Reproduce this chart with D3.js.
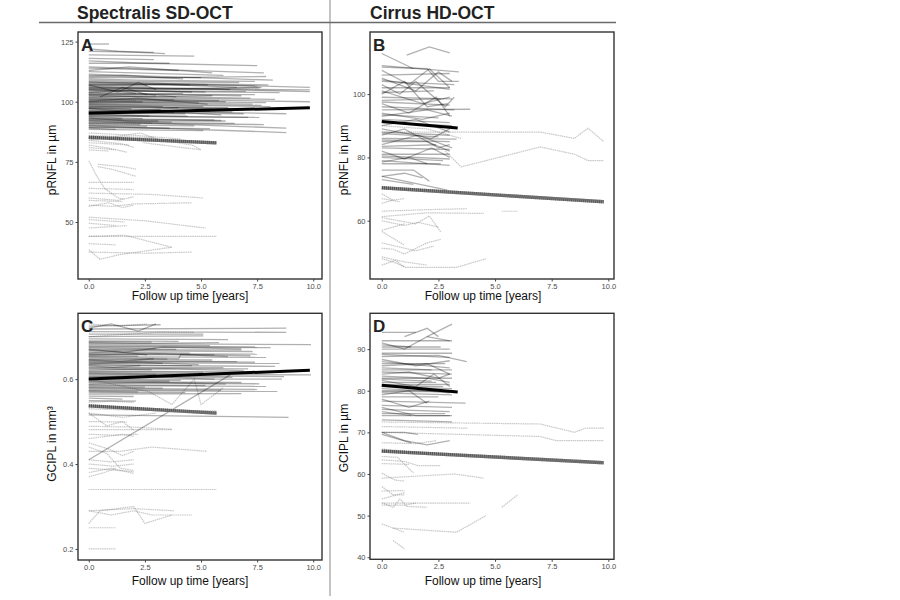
<!DOCTYPE html>
<html>
<head>
<meta charset="utf-8">
<script src="https://cdn.jsdelivr.net/npm/d3@7"></script>
<style>
body { margin: 0; background: #fff; }
svg { font-family: "Liberation Sans", Arial, sans-serif; }
</style>
</head>
<body>
<div id="chart"></div>
<script>
var xTicks = [0, 2.5, 5, 7.5, 10]
var aTicks = [50, 75, 100, 125]
var bTicks = [60, 80, 100]
var cTicks = [0.2, 0.4, 0.6]
var dTicks = [40, 50, 60, 70, 80, 90]

// Spectralis pRNFL (A)
var aSolid = [
	[[0,124],[0.9,124]], [[0,122],[1.3,121],[3.4,120]], [[0,121],[2.9,120.5]], [[0,119.5],[4.7,119]],
	[[0,118],[2.9,117.5]], [[0,117],[2.5,116],[7.5,115]], [[0,116],[3.6,116]], [[0,114.5],[3,113.5],[7.8,112]],
	[[0,114],[4,113]], [[0,113],[1.8,114.5],[5.5,112]], [[0,112.5],[6,111]], [[0,111.5],[8.2,109]],
	[[0,111],[3.2,110],[7.9,110.5]], [[0,110],[5,110]], [[0,109.5],[2.2,109],[7.4,108.5]], [[0,108.5],[9.85,106]],
	[[0,108],[4.5,107]], [[0,107.5],[7.5,106.5]], [[0,107],[2.6,106.5]], [[0,106.5],[9.85,104.2]],
	[[0,106],[6.3,105]], [[0,105.5],[3.5,105],[7.7,106]], [[0,105],[5.2,104]], [[0,104.5],[8.5,103.8]],
	[[0,104],[2.1,103.5]], [[0,103.5],[6.8,102.5]], [[0,103],[4.2,103.5]], [[0,102.5],[7.2,101.5]],
	[[0,102],[3,102.5]], [[0,101.5],[9.85,100]], [[0,101],[5.8,100.5]], [[0,100.5],[2.4,100]],
	[[0,100],[7.3,99]], [[0,99.5],[4.9,99.5]], [[0,99],[8.1,98]], [[0,98.5],[3.3,98]],
	[[0,98],[6.2,97.5]], [[0,97.5],[1.9,97]], [[0,97],[5.4,96]], [[0,96.5],[8.8,95]],
	[[0,96],[3.8,95.5]], [[0,95.5],[6.9,95]], [[0,95],[2.7,94]], [[0,94.5],[4.4,94]],
	[[0,94],[7.6,93.5]], [[0,93.5],[1.5,93]], [[0,93],[5.6,92.5]], [[0,92.5],[3.1,92]],
	[[0,92],[8.8,89]], [[0,91.5],[6.5,91]], [[0,91],[2.3,90.5]], [[0,90.5],[4.7,90]],
	[[0,90],[8.8,87.2]], [[0,89.5],[3.6,89]], [[0,89],[1.2,88.5]], [[0,88.5],[5.1,88]],
	[[0,107],[1.3,104],[2.2,108],[3,105]], [[0.5,102],[1.5,106],[2.6,103]], [[0,110.5],[1.6,111],[4.2,109.5]],
	[[0,103.8],[1.1,104.5],[3.9,102]], [[0,100.2],[2.2,101.5],[5.3,99]], [[0,97.2],[1.7,96],[4,97.5]],
	[[0,95.8],[2.5,96.5],[5.9,94.5]], [[0,93.2],[1.8,92],[6.1,92]], [[0,106.8],[3.3,107.2],[6.6,106]],
	[[0,105.2],[2.9,104.5],[7,104.3]], [[0,99.8],[3.7,100.2],[7.9,99.6]], [[0,98.2],[2.8,97.8],[6.6,96.8]],
	[[0,109],[2,108.5],[6.7,108]], [[0,108.2],[3.4,107.5],[8,107]], [[0,107.2],[5.3,107]],
	[[0,106.2],[2.9,105.5],[7.6,105.8]], [[0,105.7],[9.85,104.9]], [[0,104.8],[4.6,104]], [[0,103.2],[7.4,103]],
	[[0,102.8],[2.6,102],[5.5,102.5]], [[0,101.8],[8.3,101]], [[0,101.2],[3.8,100.8]], [[0,100.8],[6.1,100]],
	[[0,99.2],[2.9,99],[7.7,98.5]], [[0,98.8],[5.1,98]], [[0,97.8],[8.4,97]], [[0,97.3],[3.2,96.8]],
	[[0,96.2],[6.4,95.8]], [[0,95.2],[4.3,95]], [[0,94.2],[7.1,93.5]], [[0,93.8],[2.4,93]],
	[[0,92.8],[5.9,92.2]], [[0,92.2],[3.7,91.5]], [[0,91.2],[7.8,90.5]], [[0,90.2],[2.6,89.8]], [[0,89.2],[5.4,88.8]]
]
var aDotted = [
	[[0,104],[2,104.5]], [[0,100],[2.1,100.5]], [[0,96],[1.7,95.5]], [[0,91],[2.8,91]],
	[[0,87],[2.1,86],[4.1,84.5]], [[0,86],[2.9,85]], [[0,84],[2.3,87],[3.2,84],[4.6,82],[5,80],[2.4,83]],
	[[0,84],[1.5,82.5],[2,81]], [[0,83],[1.8,82]], [[0,82],[1,80.5],[1.7,79]], [[0,81],[1.2,80]],
	[[0,80],[0.9,79.5]], [[0,75.5],[0.3,70],[0.7,64],[1.3,60],[1.6,59.5]], [[0.4,74],[1.5,73],[2.1,72]],
	[[0.4,73],[1,72],[2.1,69]], [[0,66.5],[2,66.5]], [[0,64],[2,63.5]], [[0,62],[2.7,61.5],[5.1,60]],
	[[0,60],[1.3,59],[2,60.5]], [[0,59],[1.5,58.5]], [[0,57],[1.1,56.5],[2,57.5],[4.6,58]],
	[[0,56.5],[0.9,58],[1.5,56],[2,57]], [[0,52],[2.5,50.5],[5.2,47.5]], [[0,51],[1.6,50]],
	[[0,49.5],[1.2,48.5]], [[0,47.5],[1.7,48.5]], [[0,44],[2,44],[5.7,44]],
	[[0,44],[1.6,44.5],[3.7,39.5]], [[0,38.5],[0.5,34.5],[1.4,36.5],[3.7,39.5]], [[0,41],[1.2,40.5]],
	[[0,37.5],[2.5,37],[4.6,37.5]]
]
var aMeanSolid = [[0,95.2],[9.85,97.5]]
var aMeanDashed = [[0,85.2],[5.7,82.9]]

// Cirrus pRNFL (B)
var bSolid = [
	[[1.1,112.3],[2.1,114.9],[3,113]], [[0,112.8],[1.4,108]], [[0,109],[3.4,107]],
	[[0,108.5],[2,108],[2.5,104],[3.4,104]], [[0,107.5],[1.2,103],[2.1,108],[3,102]], [[0,106],[3,106.5]],
	[[0,105],[1.5,101],[2.5,107],[3.1,104]], [[0,104.5],[3,101.5]], [[0,103],[0.8,100],[1.5,104],[2.8,96],[3.2,99]],
	[[0,102],[3,102]], [[0,101],[1.8,97],[3,99]], [[0,100],[1,104],[2,96],[2.9,97]], [[0,99],[3.1,98.5]],
	[[0,98],[2.6,98.5]], [[0,97],[1.2,94],[2.4,99],[3,93]], [[0,96],[3.2,95]], [[0,95],[3.9,95.2]],
	[[0,94],[1.8,92],[3,94]], [[0,93],[2,95],[3.1,93]], [[0,92],[3,91]], [[0,90],[1.5,92],[3,88]],
	[[0,89],[2.2,86],[3,89]], [[0,88],[3,87]], [[0,87],[1,89],[2.5,83],[3,84]], [[0,86],[3.3,85.8]],
	[[0,85],[2,85],[3,82]], [[0,84],[1.6,87],[3.1,83]], [[0,83],[3,82.5]], [[0,82],[1,79.5],[2.2,83],[3,80]],
	[[0,81],[3,81]], [[0,80],[2.7,79]], [[0,79],[3,77.5]], [[0,78.5],[1.2,80],[2,78]],
	[[0,76],[1.4,76],[2.1,72.5]], [[0,74],[1,75],[1.8,73.5]], [[0,74],[2.9,69.7]], [[0,73],[1.4,71.5]],
	[[0,104],[3.2,103]], [[0,100.5],[2.3,101]], [[0,97.5],[3,96.5]], [[0,93.5],[2.5,92.5]], [[0,91],[3.1,90]],
	[[0,87.5],[2.5,86.5]], [[0,85.5],[3,85]], [[0,83.5],[2.4,84]], [[0,80.5],[3,79.5]], [[0,78],[2.6,78]]
]
var bDotted = [
	[[0,88],[7,88],[8.5,86],[9.1,89.2],[9.8,85]], [[2.8,82],[3.5,77],[7,83.3],[8.5,81],[9.1,79],[9.8,79]],
	[[0,90],[2,89],[3.5,86]], [[0,68.5],[0.5,66.5],[1,67]], [[0,67],[0.8,66]], [[0,65.5],[0.5,66.5]],
	[[0,63],[2,63.5],[3.75,63.8]], [[0,61.3],[2,62.5],[4.5,62.3]], [[5.3,63],[6,63]],
	[[0,61],[1.5,59],[2.1,61.5],[2.6,56.5]], [[0,60],[1,58.5],[1.6,59.5],[2.5,58]], [[0,57],[0.5,58],[1,59]],
	[[0,56.6],[1,52.3]], [[0,51.3],[0.5,51],[1,49.5],[2,53],[2.6,54.1]], [[0,48.6],[1,47],[2,46]],
	[[0,48],[0.5,47],[1,45.5]], [[0,46],[0.6,47.5],[1,45.3],[3.3,45.3],[4.6,48]], [[0,53],[1.5,50.5],[2.3,52]]
]
var bMeanSolid = [[0,91.3],[3.35,89.3]]
var bMeanDashed = [[0,70.4],[9.8,66]]

// Spectralis GCIPL (C)
var cSolid = [
	[[0,0.72],[1,0.73],[2.2,0.713],[3,0.73]], [[0,0.725],[3.2,0.728]], [[0,0.718],[8.8,0.72]],
	[[0,0.712],[8.8,0.71]], [[0,0.706],[5.1,0.706]], [[0,0.7],[5.1,0.702]], [[0,0.69],[4,0.689]],
	[[0,0.684],[9.9,0.681]], [[0,0.678],[7.5,0.676]], [[0,0.674],[3,0.672]], [[0,0.669],[6.8,0.669]],
	[[0,0.664],[4.5,0.661]], [[0,0.66],[7.5,0.659]], [[0,0.655],[2.2,0.654]],
	[[0,0.651],[4,0.648],[4.1,0.658],[7.2,0.655]], [[0,0.646],[5.5,0.645]], [[0,0.642],[7.4,0.64]],
	[[0,0.638],[3.3,0.637]], [[0,0.633],[8.3,0.63]], [[0,0.628],[6,0.627]], [[0,0.624],[2.8,0.622]],
	[[0,0.619],[7.7,0.617]], [[0,0.615],[4.8,0.612]], [[0,0.611],[9.9,0.61]], [[0,0.606],[6.4,0.604]],
	[[0,0.6],[8.6,0.6]], [[0,0.596],[3.6,0.595]], [[0,0.592],[7.6,0.589]], [[0,0.587],[5.2,0.585]],
	[[0,0.582],[2.5,0.581]], [[0,0.578],[7.5,0.576]], [[0,0.573],[8.4,0.571]], [[0,0.569],[4.3,0.568]],
	[[0,0.565],[6.8,0.566]], [[0,0.56],[2,0.559]], [[0,0.555],[1.5,0.553]], [[0,0.549],[2.1,0.548]],
	[[0,0.516],[8.9,0.51]], [[0,0.41],[6.3,0.61]], [[0,0.67],[1.5,0.663],[3.3,0.675],[6.8,0.671]],
	[[0,0.686],[2.4,0.684],[5.8,0.686]], [[0,0.657],[3.1,0.66],[6.2,0.653]], [[0,0.636],[2.1,0.64],[4.9,0.634]],
	[[0,0.621],[3.4,0.624],[6.9,0.62]], [[0,0.604],[1.8,0.607],[5.6,0.6]], [[0,0.589],[2.9,0.592],[6.1,0.588]],
	[[0,0.662],[1.2,0.665],[2.6,0.657]], [[0,0.645],[1.4,0.642],[2.9,0.648]], [[0,0.631],[1.1,0.628],[2.3,0.632]],
	[[0,0.695],[6.2,0.693]], [[0,0.688],[2.8,0.687]], [[0,0.681],[5.4,0.679]], [[0,0.676],[8.1,0.674]],
	[[0,0.671],[3.9,0.67]], [[0,0.667],[7.3,0.665]], [[0,0.658],[5.6,0.657]], [[0,0.653],[7.9,0.651]],
	[[0,0.648],[3.5,0.647]], [[0,0.643],[6.6,0.641]], [[0,0.639],[8.5,0.637]], [[0,0.634],[4.6,0.632]],
	[[0,0.626],[7.1,0.624]], [[0,0.617],[5.1,0.616]], [[0,0.613],[3,0.611]], [[0,0.608],[8.7,0.606]],
	[[0,0.598],[4.1,0.597]], [[0,0.594],[6.8,0.592]], [[0,0.585],[7.9,0.583]], [[0,0.58],[3.3,0.579]],
	[[0,0.575],[5.9,0.574]], [[0,0.571],[2.2,0.57]]
]
var cDotted = [
	[[0,0.73],[1.4,0.725],[2.6,0.73]], [[0,0.7],[3,0.71],[4.7,0.71]],
	[[0,0.6],[2.7,0.57],[3.7,0.54],[4.7,0.6],[5,0.54],[6,0.58]], [[0,0.545],[1,0.548],[2,0.545]],
	[[0,0.53],[2,0.527],[5.7,0.525]], [[0,0.52],[1.5,0.51],[3,0.52]], [[0,0.5],[1.7,0.499]],
	[[0,0.489],[2,0.487],[3.7,0.482]], [[0,0.481],[3.7,0.481]], [[0,0.47],[1.2,0.468],[2.2,0.47]],
	[[0,0.46],[1.5,0.47],[2,0.465]], [[0,0.45],[0.9,0.435],[1.5,0.42],[2,0.43]],
	[[0,0.43],[1.4,0.43],[2.8,0.44],[5.25,0.43]], [[0,0.44],[0.8,0.425],[1.4,0.39],[2,0.385]],
	[[0,0.41],[1,0.405],[2,0.41]], [[0,0.4],[1.1,0.395],[2,0.4]], [[0,0.39],[1.3,0.385],[2,0.382]],
	[[0,0.38],[1,0.39],[2,0.378]], [[0,0.37],[0.7,0.38],[1.2,0.39]], [[0,0.34],[5.7,0.34]],
	[[0,0.29],[1,0.28],[2,0.29],[2.8,0.28],[4.6,0.28]], [[0,0.26],[0.5,0.29],[2,0.3],[2.5,0.26],[3.7,0.28]],
	[[0,0.29],[2,0.295],[3.8,0.29]], [[0,0.25],[1.2,0.25]], [[0,0.2],[1.2,0.2]],
	[[0,0.52],[0.8,0.49],[1.5,0.5],[2,0.48]]
]
var cMeanSolid = [[0,0.6],[9.85,0.621]]
var cMeanDashed = [[0,0.537],[5.7,0.52]]

// Cirrus GCIPL (D)
var dSolid = [
	[[1,93],[2,95],[2.5,93]], [[2,93],[3.1,96]], [[0,94],[1.5,94]], [[0,92],[3.1,92]],
	[[0,91.5],[1,90],[2,93],[3,92]], [[0,91],[1.3,90.5]], [[0,90],[3,90]], [[0,89],[3.1,89]],
	[[0,88.2],[2.5,88.5],[3.75,87]], [[0,87.5],[1.5,86],[3,87.2]], [[0,87],[3,85.5]],
	[[0,86],[2,86.5],[3,84]], [[0,85.5],[2.2,85]], [[0,85],[3.1,85]], [[0,84],[1.2,84.5],[2.5,83],[3,84]],
	[[0,83.5],[2,83],[3,82]], [[0,83],[3.1,83]], [[0,82.5],[1.5,81],[2.3,84],[3,81]], [[0,82],[2.4,82]],
	[[0,81.5],[3,81.5]], [[0,81],[3.1,80.5]], [[0,80.5],[1.8,80],[3,79.5]], [[0,80],[2.8,80]],
	[[0,79.5],[3.1,79]], [[0,79],[1.2,80],[2,77]], [[0,78],[1.2,76],[2.1,77.5]], [[0,77.5],[3.7,77]],
	[[0,76],[1.5,74],[3,74]], [[0,75.5],[3,75]], [[0,75],[1.3,74]], [[0,74],[3.1,74]],
	[[0,73],[3.1,72.5]], [[0,70],[1,68],[2,67],[3,68]], [[0,69.5],[1.3,67.5]], [[0,70],[1,70],[1.6,69.5]],
	[[0,90.5],[2.6,90.5]], [[0,88.7],[3,88]], [[0,86.5],[2.8,86.5]], [[0,84.5],[3.1,84]], [[0,82.8],[2.2,82.3]],
	[[0,81.2],[2.7,81]], [[0,79.8],[3,79.8]], [[0,78.5],[2.5,78.5]], [[0,76.5],[3.1,76]], [[0,74.5],[2.8,74.5]]
]
var dDotted = [
	[[0,72.5],[7,72],[8.5,70],[9,71],[9.8,71]], [[0,71.4],[3.8,71]], [[0,70],[7,69],[7.7,68],[9.8,68]],
	[[0,67.5],[1.5,67.3],[2.4,68]], [[0,66],[1,65.5]], [[0,64.2],[0.7,64],[1.4,60.2]],
	[[0,63.4],[1,63],[1.6,62],[2.6,62]], [[0,62.5],[1.2,62.3]], [[0,60.2],[0.6,58.5],[1,58.3]],
	[[0,59],[3.2,60],[4.5,59]], [[0,55.9],[1,56]], [[0,54],[1,55.5]],
	[[0,53.1],[0.5,52],[0.8,54],[1.1,52.2],[2,52]], [[0,53],[3.9,53]], [[5.3,52],[6,55]],
	[[0,48],[0.5,47],[1,46]], [[0.5,47],[3.3,46],[4.6,50]], [[0.5,44],[1,42]],
	[[0,52.5],[1,52.5],[1.5,53]], [[0,57],[0.5,55],[1,55]]
]
var dMeanSolid = [[0,81.3],[3.35,79.7]]
var dMeanDashed = [[0,65.5],[9.8,62.7]]

var W = 900, H = 600

var svg = d3.select('#chart').append('svg')
	.attr('width', W)
	.attr('height', H)

svg.append('rect').attr('width', W).attr('height', H).attr('fill', '#fff')

// column headers and rules
svg.append('line')
	.attr('x1', 330).attr('x2', 330).attr('y1', 0).attr('y2', 596)
	.attr('stroke', '#8a8a8a').attr('stroke-width', 1)
svg.append('line')
	.attr('x1', 39).attr('x2', 616).attr('y1', 22.5).attr('y2', 22.5)
	.attr('stroke', '#6a6a6a').attr('stroke-width', 1.4)
svg.append('text').attr('x', 77).attr('y', 19)
	.attr('font-size', 17.5).attr('font-weight', 'bold').attr('fill', '#222')
	.text('Spectralis SD-OCT')
svg.append('text').attr('x', 370).attr('y', 19)
	.attr('font-size', 17.5).attr('font-weight', 'bold').attr('fill', '#222')
	.text('Cirrus HD-OCT')

var panels = [
	{ letter: 'A', solid: aSolid, dotted: aDotted, mSolid: aMeanSolid, mDashed: aMeanDashed,
	  ticks: aTicks, fmt: d3.format('d'), yTitle: 'pRNFL in µm',
	  x0: 78, x1: 322, y0: 32, y1: 279, xDom: [-0.48, 10.39], yDom: [26.3, 129],
	  xTitleX: 190, xTitleY: 297, yTitleX: 53, yTitleY: 160 },
	{ letter: 'B', solid: bSolid, dotted: bDotted, mSolid: bMeanSolid, mDashed: bMeanDashed,
	  ticks: bTicks, fmt: d3.format('d'), yTitle: 'pRNFL in µm',
	  x0: 370, x1: 614, y0: 32, y1: 279, xDom: [-0.52, 10.25], yDom: [41.6, 119.6],
	  xTitleX: 483, xTitleY: 297, yTitleX: 345, yTitleY: 160 },
	{ letter: 'C', solid: cSolid, dotted: cDotted, mSolid: cMeanSolid, mDashed: cMeanDashed,
	  ticks: cTicks, fmt: d3.format('.1f'), yTitle: 'GCIPL in mm³',
	  x0: 78, x1: 322, y0: 313.3, y1: 560, xDom: [-0.48, 10.39], yDom: [0.174, 0.755],
	  xTitleX: 190, xTitleY: 582, yTitleX: 53, yTitleY: 444 },
	{ letter: 'D', solid: dSolid, dotted: dDotted, mSolid: dMeanSolid, mDashed: dMeanDashed,
	  ticks: dTicks, fmt: d3.format('d'), yTitle: 'GCIPL in µm',
	  x0: 370, x1: 614, y0: 313.3, y1: 559.3, xDom: [-0.52, 10.25], yDom: [39.5, 98.6],
	  xTitleX: 483, xTitleY: 582, yTitleX: 345, yTitleY: 438 }
]

panels.forEach(function(p, i) {

	var x = d3.scaleLinear().domain(p.xDom).range([p.x0, p.x1])
	var y = d3.scaleLinear().domain(p.yDom).range([p.y1, p.y0])

	var line = d3.line()
		.x(function(d) { return x(d[0]) })
		.y(function(d) { return y(d[1]) })

	var clipId = 'clip' + i
	svg.append('clipPath').attr('id', clipId)
		.append('rect')
		.attr('x', p.x0).attr('y', p.y0)
		.attr('width', p.x1 - p.x0).attr('height', p.y1 - p.y0)

	var g = svg.append('g').attr('clip-path', 'url(#' + clipId + ')')

	g.selectAll('.dotted')
		.data(p.dotted)
		.enter()
		.append('path')
		.attr('class', 'dotted')
		.attr('d', line)
		.attr('fill', 'none')
		.attr('stroke', '#777')
		.attr('stroke-opacity', 0.4)
		.attr('stroke-width', 1.2)
		.attr('stroke-dasharray', '1.6,0.6')

	g.selectAll('.solid')
		.data(p.solid)
		.enter()
		.append('path')
		.attr('class', 'solid')
		.attr('d', line)
		.attr('fill', 'none')
		.attr('stroke', '#000')
		.attr('stroke-opacity', 0.31)
		.attr('stroke-width', 1.3)

	// group means
	g.append('path')
		.attr('d', line(p.mDashed))
		.attr('fill', 'none')
		.attr('stroke', '#9a9a9a')
		.attr('stroke-width', 3.4)
	g.append('path')
		.attr('d', line(p.mDashed))
		.attr('fill', 'none')
		.attr('stroke', '#222')
		.attr('stroke-width', 3.4)
		.attr('stroke-dasharray', '1,1')
		.attr('stroke-opacity', 0.75)
	g.append('path')
		.attr('d', line(p.mSolid))
		.attr('fill', 'none')
		.attr('stroke', '#000')
		.attr('stroke-width', 3)

	svg.append('rect')
		.attr('x', p.x0).attr('y', p.y0)
		.attr('width', p.x1 - p.x0).attr('height', p.y1 - p.y0)
		.attr('fill', 'none')
		.attr('stroke', '#333')
		.attr('stroke-width', 1.4)

	var yAxis = svg.append('g')
		.attr('transform', 'translate(' + p.x0 + ',0)')
		.call(d3.axisLeft(y).tickValues(p.ticks).tickFormat(p.fmt).tickSize(2.5).tickPadding(2))
	var xAxis = svg.append('g')
		.attr('transform', 'translate(0,' + p.y1 + ')')
		.call(d3.axisBottom(x).tickValues(xTicks).tickFormat(d3.format('.1f')).tickSize(2.5).tickPadding(2))

	;[yAxis, xAxis].forEach(function(ax) {
		ax.select('.domain').remove()
		ax.selectAll('line').attr('stroke', '#444')
		ax.selectAll('text')
			.attr('fill', '#4d4d4d')
			.style('font-size', '7.5px')
			.style('font-family', '"Liberation Sans", Arial, sans-serif')
	})

	svg.append('text')
		.attr('x', p.x0 + 3).attr('y', p.y0 + 19)
		.attr('font-size', 17).attr('font-weight', 'bold').attr('fill', '#222')
		.text(p.letter)

	svg.append('text')
		.attr('x', p.xTitleX).attr('y', p.xTitleY)
		.attr('text-anchor', 'middle').attr('dominant-baseline', 'middle')
		.attr('font-size', 12).attr('fill', '#111')
		.text('Follow up time [years]')

	svg.append('text')
		.attr('transform', 'translate(' + p.yTitleX + ',' + p.yTitleY + ') rotate(-90)')
		.attr('text-anchor', 'middle').attr('dominant-baseline', 'middle')
		.attr('font-size', 12).attr('fill', '#111')
		.text(p.yTitle)

})
</script>
</body>
</html>
